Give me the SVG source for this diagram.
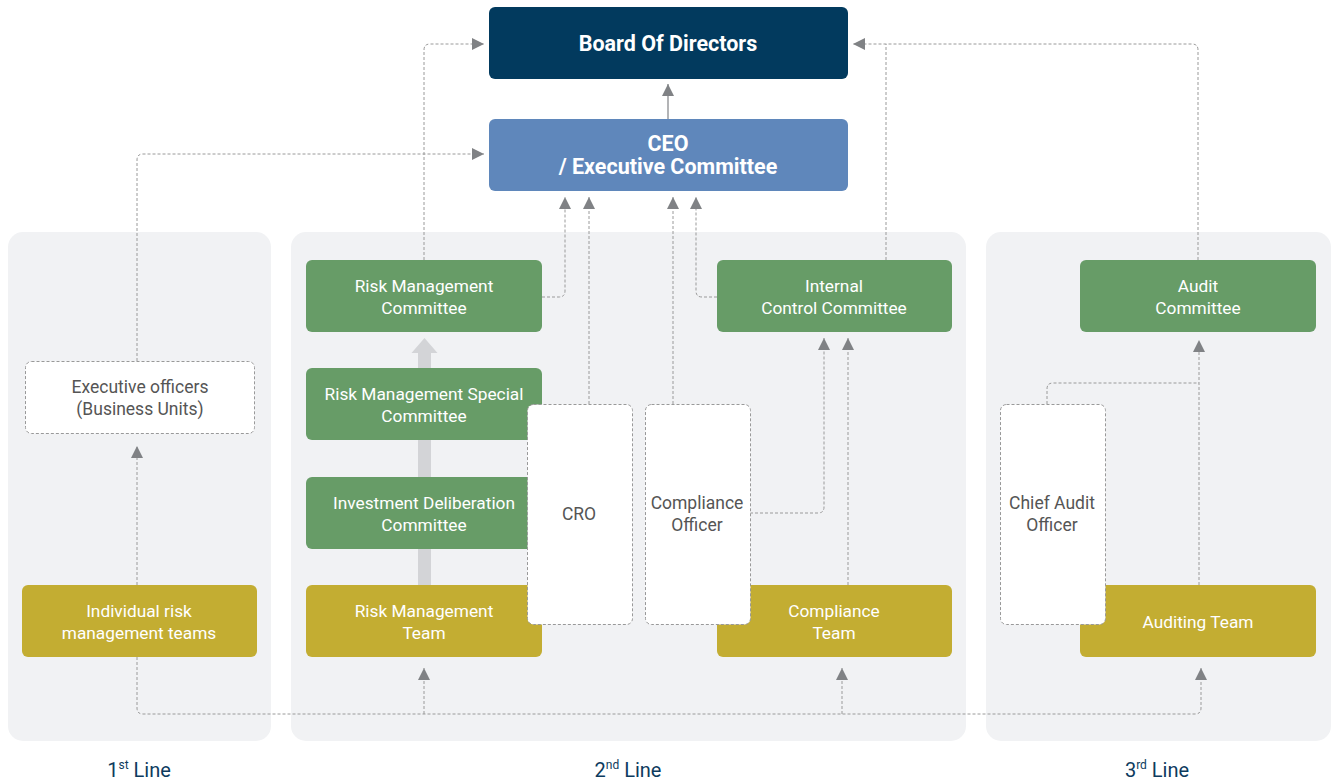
<svg xmlns="http://www.w3.org/2000/svg" width="1333" height="784" viewBox="0 0 1333 784">
<defs>
<marker id="ah" viewBox="0 0 10 10" refX="10" refY="5" markerWidth="14" markerHeight="12" markerUnits="userSpaceOnUse" orient="auto">
<path d="M0,0 L10,5 L0,10 z" fill="#808285"/>
</marker>
</defs>
<style>
text{font-family:Roboto,"Liberation Sans",sans-serif;text-anchor:middle}
.panel{fill:#f1f2f4}
.green{fill:#679c67}
.olive{fill:#c3ad32}
.wbox{fill:#fff;stroke:#999;stroke-width:1;stroke-dasharray:3 2}
.wt{fill:#fff;font-size:17.3px}
.dt{fill:#555;font-size:17.5px}
.bt{fill:#fff;font-size:21.5px;font-weight:700}
.lab{fill:#0d3b5e;font-size:20px}
.dash{fill:none;stroke:#9a9a9a;stroke-width:1;stroke-dasharray:3 2}
</style>
<rect width="1333" height="784" fill="#fff"/>
<g id="panels">
<rect class="panel" x="8" y="232" width="263" height="509" rx="15"/>
<rect class="panel" x="291" y="232" width="675" height="509" rx="15"/>
<rect class="panel" x="986" y="232" width="345" height="509" rx="15"/>
</g>
<g id="thick-arrow">
<rect x="418" y="352" width="13" height="234" fill="#d3d4d7"/>
<path d="M411.5,353 L424.5,338 L437.5,353 z" fill="#d3d4d7"/>
</g>
<g id="connectors">
<path class="dash" d="M424,260 V50 Q424,44 430,44 H484" marker-end="url(#ah)"/>
<path class="dash" d="M137,361 V160 Q137,154 143,154 H484" marker-end="url(#ah)"/>
<path class="dash" d="M1198,260 V50 Q1198,44 1192,44 H853" marker-end="url(#ah)"/>
<path class="dash" d="M886,260 V44"/>
<path class="dash" d="M542,297 H559 Q565,297 565,291 V197" marker-end="url(#ah)"/>
<path class="dash" d="M589,404 V197" marker-end="url(#ah)"/>
<path class="dash" d="M673,404 V197" marker-end="url(#ah)"/>
<path class="dash" d="M717,297 H702 Q696,297 696,291 V197" marker-end="url(#ah)"/>
<path class="dash" d="M750,513 H818 Q824,513 824,507 V338" marker-end="url(#ah)"/>
<path class="dash" d="M848,585 V338" marker-end="url(#ah)"/>
<path class="dash" d="M1199,585 V340" marker-end="url(#ah)"/>
<path class="dash" d="M1047,404 V389 Q1047,383 1053,383 H1199"/>
<path class="dash" d="M137,585 V446" marker-end="url(#ah)"/>
<path class="dash" d="M137,657 V708 Q137,714 143,714 H1195 Q1201,714 1201,708 V668" marker-end="url(#ah)"/>
<path class="dash" d="M424,714 V668" marker-end="url(#ah)"/>
<path class="dash" d="M842,714 V668" marker-end="url(#ah)"/>
<path d="M668,119 V84" fill="none" stroke="#808285" stroke-width="1.2" marker-end="url(#ah)"/>
</g>
<g id="board">
<rect x="489" y="7" width="359" height="72" rx="6" fill="#023a5e"/>
<text class="bt" x="668" y="51">Board Of Directors</text>
</g>
<g id="ceo">
<rect x="489" y="119" width="359" height="72" rx="6" fill="#5f87bb"/>
<text class="bt" x="668" y="151">CEO</text>
<text class="bt" x="668" y="174">/ Executive Committee</text>
</g>
<g id="rmc">
<rect class="green" x="306" y="260" width="236" height="72" rx="6"/>
<text class="wt" x="424" y="292">Risk Management</text>
<text class="wt" x="424" y="314">Committee</text>
</g>
<g id="icc">
<rect class="green" x="717" y="260" width="235" height="72" rx="6"/>
<text class="wt" x="834" y="292">Internal</text>
<text class="wt" x="834" y="314">Control Committee</text>
</g>
<g id="ac">
<rect class="green" x="1080" y="260" width="236" height="72" rx="6"/>
<text class="wt" x="1198" y="292">Audit</text>
<text class="wt" x="1198" y="314">Committee</text>
</g>
<g id="rmsc">
<rect class="green" x="306" y="368" width="236" height="72" rx="6"/>
<text class="wt" x="424" y="400">Risk Management Special</text>
<text class="wt" x="424" y="422">Committee</text>
</g>
<g id="idc">
<rect class="green" x="306" y="477" width="236" height="72" rx="6"/>
<text class="wt" x="424" y="509">Investment Deliberation</text>
<text class="wt" x="424" y="531">Committee</text>
</g>
<g id="rmt">
<rect class="olive" x="306" y="585" width="236" height="72" rx="6"/>
<text class="wt" x="424" y="617">Risk Management</text>
<text class="wt" x="424" y="639">Team</text>
</g>
<g id="ct">
<rect class="olive" x="717" y="585" width="235" height="72" rx="6"/>
<text class="wt" x="834" y="617">Compliance</text>
<text class="wt" x="834" y="639">Team</text>
</g>
<g id="at">
<rect class="olive" x="1080" y="585" width="236" height="72" rx="6"/>
<text class="wt" x="1198" y="628">Auditing Team</text>
</g>
<g id="irmt">
<rect class="olive" x="22" y="585" width="235" height="72" rx="6"/>
<text class="wt" x="139" y="617">Individual risk</text>
<text class="wt" x="139" y="639">management teams</text>
</g>
<g id="eo">
<rect class="wbox" x="25.5" y="361.5" width="229" height="72" rx="6"/>
<text class="dt" x="140" y="393">Executive officers</text>
<text class="dt" x="140" y="415">(Business Units)</text>
</g>
<g id="cro">
<rect class="wbox" x="527.5" y="404.5" width="105" height="220" rx="6"/>
<text class="dt" x="579" y="520">CRO</text>
</g>
<g id="co">
<rect class="wbox" x="645.5" y="404.5" width="105" height="220" rx="6"/>
<text class="dt" x="697" y="509">Compliance</text>
<text class="dt" x="697" y="531">Officer</text>
</g>
<g id="cao">
<rect class="wbox" x="1000.5" y="404.5" width="105" height="220" rx="6"/>
<text class="dt" x="1052" y="509">Chief Audit</text>
<text class="dt" x="1052" y="531">Officer</text>
</g>
<g id="labels">
<text class="lab" x="139" y="777">1<tspan font-size="12" dy="-8">st</tspan><tspan dy="8"> Line</tspan></text>
<text class="lab" x="628" y="777">2<tspan font-size="12" dy="-8">nd</tspan><tspan dy="8"> Line</tspan></text>
<text class="lab" x="1157" y="777">3<tspan font-size="12" dy="-8">rd</tspan><tspan dy="8"> Line</tspan></text>
</g>
</svg>
